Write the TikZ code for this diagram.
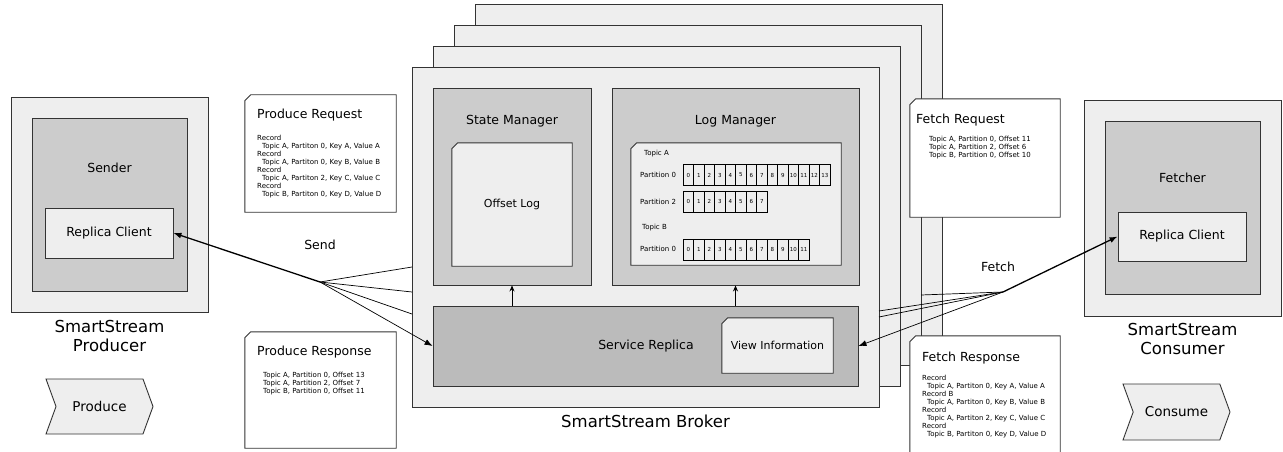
\documentclass[tikz,border=0pt]{standalone}
\usepackage{fontspec}
\setmainfont{DejaVu Sans}
\usetikzlibrary{arrows.meta,shapes.symbols}

\definecolor{boxlight}{HTML}{EEEEEE}
\definecolor{boxmid}{HTML}{CCCCCC}
\definecolor{boxdark}{HTML}{BBBBBB}
\definecolor{edge}{HTML}{333333}

% outline of a note frame with its top left corner cut off
\newcommand{\notebox}[2][boxlight]{%
  \draw[draw=edge, line width=0.9pt, fill=#1]
    ([yshift=-6pt]#2.north west) -- ([xshift=6pt]#2.north west)
    -- (#2.north east) -- (#2.south east) -- (#2.south west) -- cycle;}

\begin{document}
\begin{tikzpicture}[
  x=1pt, y=-1pt,
  >=Stealth,
  box/.style={draw=edge, line width=0.9pt, inner sep=0pt},
  outer/.style={box, fill=boxlight},
  inner/.style={box, fill=boxmid},
  core/.style={box, fill=boxdark},
  client/.style={box, fill=boxlight},
  frame/.style={inner sep=0pt},
  stage/.style={box, fill=boxlight, signal, signal to=east, signal from=west,
    signal pointer angle=140, font=\fontsize{13.5}{16}\selectfont},
  cell/.style={draw=black, fill=boxlight, line width=0.6pt,
    minimum width=10.5pt, minimum height=21pt, inner sep=0pt,
    font=\fontsize{5.5}{6}\selectfont},
  lbl/.style={font=\fontsize{12.5}{15}\selectfont, inner sep=0pt},
  notelbl/.style={font=\fontsize{11}{13}\selectfont, inner sep=0pt},
  big/.style={font=\fontsize{16.5}{19}\selectfont, align=center, inner sep=0pt},
  small/.style={font=\fontsize{7}{8}\selectfont, align=left, inner sep=0pt},
  link/.style={draw=black, line width=0.7pt},
  arr/.style={link, -{Latex[length=8pt,width=6pt]}},
  boldarr/.style={arr, line width=1.3pt},
  uparr/.style={link, -{Stealth[length=6pt,width=5pt]}},
]
\useasboundingbox (0,0) rectangle (1283,452);

% Producer.
\node[outer, minimum width=197pt, minimum height=215pt] (producer) at (109.5,204.5) {};
\node[inner, minimum width=155pt, minimum height=173pt] (sender) at (109.5,204.5) {};
\node[lbl] (sendername) at (109.5,168) {Sender};
\node[client, lbl, minimum width=128pt, minimum height=50pt] (pclient) at (109,233) {Replica Client};
\node[big] (producername) at (109.5,335.5) {SmartStream\\Producer};
\node[stage, minimum width=107pt, minimum height=55pt] (produce) at (99.5,406.5) {Produce};

% Produce request / response.
\node[frame, minimum width=151pt, minimum height=117pt] (preq) at (320.5,153.5) {};
\notebox[white]{preq}
\node[lbl, anchor=west] (preqtitle) at (257,115) {Produce Request};
\node[small, anchor=north west] (preqbody) at (257,135) {Record\\
  \hspace*{5pt}Topic A, Partiton 0, Key A, Value A\\Record\\
  \hspace*{5pt}Topic A, Partiton 0, Key B, Value B\\Record\\
  \hspace*{5pt}Topic A, Partiton 2, Key C, Value C\\Record\\
  \hspace*{5pt}Topic B, Partiton 0, Key D, Value D};
\node[frame, minimum width=151pt, minimum height=116pt] (presp) at (320.5,390) {};
\notebox[white]{presp}
\node[lbl, anchor=west] (presptitle) at (257,352) {Produce Response};
\node[small, anchor=north west] (prespbody) at (263,372) {Topic A, Partition 0, Offset 13\\
  Topic A, Partition 2, Offset 7\\Topic B, Partition 0, Offset 11};

% Broker replicas, back to front.
\foreach \name/\dx in {brokerD/63,brokerC/42,brokerB/21}
  \node[outer, minimum width=467pt, minimum height=340pt] (\name) at (645.5+\dx,237-\dx) {};
\node[outer, minimum width=467pt, minimum height=340pt] (broker) at (645.5,237) {};
\node[big] (brokername) at (645.5,421) {SmartStream Broker};

% State manager.
\node[inner, minimum width=158pt, minimum height=197pt] (statemgr) at (512,186.5) {};
\node[lbl] (statemgrname) at (512,121) {State Manager};
\node[frame, minimum width=120pt, minimum height=123pt] (offsetlog) at (512,204.5) {};
\notebox{offsetlog}
\node[notelbl] (offsetlogname) at (offsetlog) {Offset Log};

% Log manager.
\node[inner, minimum width=247pt, minimum height=197pt] (logmgr) at (735.5,186.5) {};
\node[lbl] (logmgrname) at (735.5,121) {Log Manager};
\node[frame, minimum width=210pt, minimum height=122pt] (topics) at (736,204) {};
\notebox{topics}
\node[small, anchor=west] (topica) at (644,154) {Topic A};
\node[small, anchor=west] (parta0) at (640,175) {Partition 0};
\node[small, anchor=west] (parta2) at (640,201.5) {Partition 2};
\node[small, anchor=west] (topicb) at (642,228) {Topic B};
\node[small, anchor=west] (partb0) at (640,249) {Partition 0};
\foreach \n in {0,...,13}
  \node[cell] (a0-\n) at (688.25+10.5*\n,175) {\n};
\foreach \n in {0,...,7}
  \node[cell] (a2-\n) at (688.25+10.5*\n,201.5) {\n};
\foreach \n in {0,...,11}
  \node[cell] (b0-\n) at (688.25+10.5*\n,249.5) {\n};

% Service replica.
\node[core, minimum width=425pt, minimum height=80pt] (service) at (645.5,346) {};
\node[lbl] (servicename) at (646,346) {Service Replica};
\node[frame, minimum width=111pt, minimum height=55pt] (viewinfo) at (777.5,345.5) {};
\notebox{viewinfo}
\node[notelbl] (viewinfoname) at (viewinfo) {View Information};
\draw[uparr] (service.north -| statemgr.south) -- (statemgr.south);
\draw[uparr] (service.north -| logmgr.south) -- (logmgr.south);

% Fetch request / response.
\node[frame, minimum width=150pt, minimum height=118pt] (freq) at (985,158) {};
\notebox[white]{freq}
\node[lbl, anchor=west] (freqtitle) at (916,120) {Fetch Request};
\node[small, anchor=north west] (freqbody) at (929,136) {Topic A, Partition 0, Offset 11\\
  Topic A, Partition 2, Offset 6\\Topic B, Partition 0, Offset 10};
\node[frame, minimum width=150pt, minimum height=124pt] (fresp) at (985,398) {};
\notebox[white]{fresp}
\node[lbl, anchor=west] (fresptitle) at (922,358) {Fetch Response};
\node[small, anchor=north west] (frespbody) at (922,375) {Record\\
  \hspace*{5pt}Topic A, Partiton 0, Key A, Value A\\Record B\\
  \hspace*{5pt}Topic A, Partiton 0, Key B, Value B\\Record\\
  \hspace*{5pt}Topic A, Partiton 2, Key C, Value C\\Record\\
  \hspace*{5pt}Topic B, Partiton 0, Key D, Value D};

% Consumer.
\node[outer, minimum width=197pt, minimum height=216pt] (consumer) at (1182.5,208) {};
\node[inner, minimum width=155pt, minimum height=173pt] (fetcher) at (1182.5,207.5) {};
\node[lbl] (fetchername) at (1182.5,178) {Fetcher};
\node[client, lbl, minimum width=128pt, minimum height=49pt] (cclient) at (1182,236.5) {Replica Client};
\node[big] (consumername) at (1182.5,338.5) {SmartStream\\Consumer};
\node[stage, minimum width=107pt, minimum height=56pt] (consume) at (1176.5,412) {Consume};

% Send path.
\coordinate (sendhub) at (320,282);
\coordinate (sendb) at (412,267);
\coordinate (sendc) at (412,292);
\coordinate (sendd) at (412,314);
\node[lbl] (sendname) at (320,245) {Send};
\draw[link] (sendhub) -- (sendb);
\draw[link] (sendhub) -- (sendc);
\draw[link] (sendhub) -- (sendd);
\draw[arr] (sendhub) -- (service.west);
\draw[boldarr] (sendhub) -- (pclient.east);

% Fetch path.
\coordinate (fetchhub) at (1003,292);
\coordinate (fetchd) at (921,295);
\coordinate (fetchc) at (879,311);
\coordinate (fetchb) at (879,317);
\node[lbl] (fetchname) at (998,267) {Fetch};
\draw[link] (fetchhub) -- (fetchd);
\draw[link] (fetchhub) -- (fetchc);
\draw[link] (fetchhub) -- (fetchb);
\draw[arr] (fetchhub) -- (service.east);
\draw[boldarr] (fetchhub) -- (cclient.west);

\end{tikzpicture}
\end{document}
